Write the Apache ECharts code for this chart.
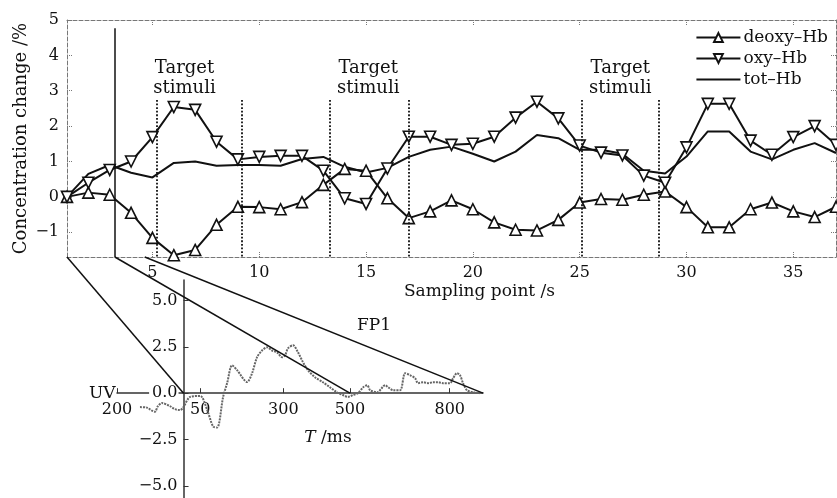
<!DOCTYPE html>
<html>
<head>
<meta charset="utf-8">
<script src="https://cdn.jsdelivr.net/npm/echarts@6/dist/echarts.min.js"></script>
<style>html,body{margin:0;padding:0;background:#fff}#c{width:837px;height:498px}</style>
</head>
<body>
<div id="c"></div>
<script>
// ---- main chart data ----
const samplePoints = [1,2,3,4,5,6,7,8,9,10,11,12,13,14,15,16,17,18,19,20,21,22,23,24,25,26,27,28,29,30,31,32,33,34,35,36,37];
const deoxyHb = [0,0.12,0.06,-0.45,-1.16,-1.65,-1.5,-0.79,-0.28,-0.29,-0.35,-0.15,0.34,0.79,0.74,-0.04,-0.6,-0.41,-0.1,-0.35,-0.72,-0.93,-0.95,-0.65,-0.16,-0.06,-0.08,0.06,0.15,-0.29,-0.86,-0.86,-0.35,-0.16,-0.41,-0.57,-0.28];
const oxyHb = [0,0.4,0.76,1.0,1.69,2.54,2.46,1.56,1.06,1.13,1.16,1.16,0.74,-0.04,-0.2,0.8,1.7,1.7,1.47,1.5,1.7,2.24,2.69,2.22,1.45,1.25,1.17,0.6,0.4,1.4,2.63,2.63,1.59,1.19,1.69,2.0,1.47];
const totHb = [0,0.65,0.9,0.68,0.55,0.96,1.0,0.88,0.9,0.9,0.88,1.07,1.13,0.85,0.69,0.82,1.13,1.33,1.42,1.22,1.0,1.28,1.75,1.66,1.33,1.33,1.22,0.74,0.66,1.14,1.85,1.85,1.28,1.06,1.33,1.52,1.24];
const seriesNames = ['deoxy\u2013Hb','oxy\u2013Hb','tot\u2013Hb'];
const xTickValues = [5,10,15,20,25,30,35];
const xTickLabels = ['5','10','15','20','25','30','35'];
const yTickValues = [-1,0,1,2,3,4,5];
const yTickLabels = ['\u22121','0','1','2','3','4','5'];
// target stimuli windows (start, end) in sampling points
const stimStart = [5.2, 13.3, 25.1];
const stimEnd = [9.2, 17.0, 28.7];
const stimLabelX = [6.5, 15.1, 26.9];
const stimTop = 2.74;
const markerX = 3.24, markerTop = 4.77;

// ---- inset (EEG FP1) data ----
const eegTime = [-131,-110,-95,-86,-77,-65,-41,-26,-11,-2,20,50,71,89,101,119,131,146,161,191,206,221,236,251,266,281,296,305,314,329,344,359,374,395,419,440,461,479,494,509,524,540,552,561,582,606,615,630,651,666,681,696,705,720,735,750,765,780,801,810,822,831,840,852,870,891];
const eegValue = [-0.75,-0.78,-0.94,-1.0,-0.7,-0.53,-0.7,-0.86,-0.91,-0.8,-0.2,-0.15,-0.9,-1.8,-1.85,-0.2,0.54,1.5,1.24,0.6,1.08,1.94,2.3,2.47,2.3,2.2,1.94,2.04,2.42,2.58,2.2,1.67,1.24,0.86,0.59,0.32,0.05,-0.1,-0.2,-0.1,0,0.32,0.43,0.16,0.05,0.43,0.32,0.16,0.16,1.08,0.97,0.8,0.54,0.59,0.54,0.59,0.59,0.54,0.54,0.8,1.08,0.97,0.54,0.16,0.05,0];
const insetXTickValues = [-200,50,300,500,800];
const insetXTickLabels = ['200','50','300','500','800'];
const insetYTickValues = [5,2.5,0,-2.5,-5];
const insetYTickLabels = ['5.0','2.5','0.0','\u22122.5','\u22125.0'];
// zoom connector lines: main x (at axis bottom) -> inset time (on zero line)
const connFromX = [1, markerX, 4.64];
const connToT = [0, 500, 900];

const FONT = 'DejaVu Serif';
const INK = '#111';
const BORDER = '#777';
const mainYMin = -1.7, mainYMax = 5;
const insetXMin = -200, insetXMax = 900, insetYMin = -5.65, insetYMax = 6.1;
// inset grid box
const IN_L = 117, IN_R = 354, IN_T = 280, IN_B = 0, W = 837, H = 498;
const inW = W - IN_L - IN_R, inH = H - IN_T - IN_B;
// axes cross at the origin: shift them from the grid edges to the zero positions
const xAxisShift = -(inH * (0 - insetYMin) / (insetYMax - insetYMin));
const yAxisShift = -(inW * (0 - insetXMin) / (insetXMax - insetXMin));

function lab(values, labels){ return v => { const i = values.findIndex(t => Math.abs(t - v) < 1e-6); return i >= 0 ? labels[i] : ''; }; }

const chart = echarts.init(document.getElementById('c'), null, {renderer:'canvas'});

const symStyle = {color:'#fff', borderColor:INK, borderWidth:1.6};
const lineStyle = {color:INK, width:2};

const stimLines = [];
stimStart.forEach((s,i)=>{
  stimLines.push([{coord:[s, stimTop]},{coord:[s, mainYMin]}]);
  stimLines.push([{coord:[stimEnd[i], stimTop]},{coord:[stimEnd[i], mainYMin]}]);
});

const option = {
  animation:false,
  backgroundColor:'#fff',
  textStyle:{fontFamily:FONT},
  title:{text:'FP1', left:352, top:312, textStyle:{fontFamily:FONT, fontSize:17, fontWeight:'normal', color:INK}},
  legend:{
    orient:'vertical', right:4, top:24, itemWidth:44, itemHeight:11, itemGap:4,
    data:[
      {name:seriesNames[0]},
      {name:seriesNames[1]},
      {name:seriesNames[2], itemStyle:{color:'rgba(0,0,0,0)', borderColor:'rgba(0,0,0,0)', borderWidth:0}}
    ],
    textStyle:{fontFamily:FONT, fontSize:17, color:INK, padding:[0,0,0,-2]}
  },
  grid:[
    {left:67, right:1, top:20, bottom:241, outerBoundsMode:'none', containLabel:false},
    {left:IN_L, right:IN_R, top:IN_T, bottom:IN_B, outerBoundsMode:'none', containLabel:false}
  ],
  xAxis:[
    {type:'value', gridIndex:0, min:1, max:37, position:'bottom',
     name:'Sampling point /s', nameLocation:'middle', nameGap:26,
     nameTextStyle:{fontFamily:FONT, fontSize:17, color:INK, padding:[0,0,0,56]},
     axisLine:{onZero:false, lineStyle:{color:BORDER, type:'dashed', width:1}},
     axisTick:{inside:true, length:5, customValues:xTickValues, lineStyle:{color:BORDER, type:'dotted'}},
     axisLabel:{customValues:xTickValues, formatter:lab(xTickValues,xTickLabels), margin:8, fontFamily:FONT, fontSize:16, color:INK},
     splitLine:{show:false}},
    {type:'value', gridIndex:0, min:1, max:37, position:'top',
     axisLine:{onZero:false, lineStyle:{color:BORDER, type:'dashed', width:1}},
     axisTick:{inside:true, length:5, customValues:xTickValues, lineStyle:{color:BORDER, type:'dotted'}},
     axisLabel:{show:false}, splitLine:{show:false}},
    {type:'value', gridIndex:1, min:insetXMin, max:insetXMax, position:'bottom', offset:xAxisShift,
     name:'{i|T} /ms', nameLocation:'middle', nameGap:36, nameMoveOverlap:false,
     nameTextStyle:{fontFamily:FONT, fontSize:17, color:INK, padding:[0,0,0,56], rich:{i:{fontFamily:FONT, fontStyle:'italic', fontSize:17, color:INK}}},
     axisLine:{onZero:false, lineStyle:{color:'#333', width:1.5}},
     axisTick:{inside:true, length:5, customValues:insetXTickValues, lineStyle:{color:'#333'}},
     axisLabel:{customValues:insetXTickValues, formatter:lab(insetXTickValues,insetXTickLabels), margin:9, fontFamily:FONT, fontSize:16, color:INK},
     splitLine:{show:false}}
  ],
  yAxis:[
    {type:'value', gridIndex:0, min:mainYMin, max:mainYMax, position:'left',
     name:'Concentration change /%', nameLocation:'middle', nameGap:37, nameMoveOverlap:false,
     nameTextStyle:{fontFamily:FONT, fontSize:18, color:INK},
     axisLine:{show:true, onZero:false, lineStyle:{color:BORDER, type:'dashed', width:1}},
     axisTick:{show:true, inside:true, length:5, customValues:yTickValues, lineStyle:{color:BORDER, type:'dotted'}},
     axisLabel:{customValues:yTickValues, formatter:lab(yTickValues,yTickLabels), margin:8, fontFamily:FONT, fontSize:16, color:INK},
     splitLine:{show:false}},
    {type:'value', gridIndex:0, min:mainYMin, max:mainYMax, position:'right',
     axisLine:{show:true, onZero:false, lineStyle:{color:BORDER, type:'dashed', width:1}},
     axisTick:{show:true, inside:true, length:5, customValues:yTickValues, lineStyle:{color:BORDER, type:'dotted'}},
     axisLabel:{show:false}, splitLine:{show:false}},
    {type:'value', gridIndex:1, min:insetYMin, max:insetYMax, position:'left', offset:yAxisShift,
     name:'UV', nameLocation:'middle', nameGap:68, nameRotate:0, nameMoveOverlap:false,
     nameTextStyle:{fontFamily:FONT, fontSize:17, color:INK, verticalAlign:'top', lineHeight:10},
     axisLine:{show:true, onZero:false, lineStyle:{color:'#333', width:1.5}},
     axisTick:{show:true, inside:true, length:5, customValues:insetYTickValues, lineStyle:{color:'#333'}},
     axisLabel:{customValues:insetYTickValues, formatter:lab(insetYTickValues,insetYTickLabels), margin:5, fontFamily:FONT, fontSize:16, color:INK, backgroundColor:'#fff', padding:[0,1,0,3]},
     splitLine:{show:false}}
  ],
  series:[
    {name:seriesNames[0], type:'line', xAxisIndex:0, yAxisIndex:0,
     data:samplePoints.map((x,i)=>[x,deoxyHb[i]]),
     symbol:'triangle', symbolSize:11, itemStyle:symStyle, lineStyle:lineStyle, z:4,
     markLine:{silent:true, symbol:['none','none'], label:{show:false},
       data:stimLines, lineStyle:{color:INK, type:'dotted', width:1.8}}},
    {name:seriesNames[1], type:'line', xAxisIndex:0, yAxisIndex:0,
     data:samplePoints.map((x,i)=>[x,oxyHb[i]]),
     symbol:'triangle', symbolRotate:180, symbolSize:11, itemStyle:symStyle, lineStyle:lineStyle, z:4,
     markLine:{silent:true, symbol:['none','none'], label:{show:false},
       data:[[{coord:[markerX, markerTop]},{coord:[markerX, mainYMin]}]], lineStyle:{color:INK, type:'solid', width:1.5}},
     markPoint:{silent:true, symbol:'circle', symbolSize:1, itemStyle:{color:'rgba(0,0,0,0)'},
       data:stimLabelX.map(x=>({coord:[x,3.36], value:0})),
       label:{show:true, position:'inside', formatter:'Target\nstimuli', fontFamily:FONT, fontSize:18, lineHeight:20, color:INK}}},
    {name:seriesNames[2], type:'line', xAxisIndex:0, yAxisIndex:0,
     data:samplePoints.map((x,i)=>[x,totHb[i]]),
     symbol:'none', lineStyle:lineStyle, itemStyle:{color:INK}, z:3},
    {name:'FP1', type:'line', xAxisIndex:2, yAxisIndex:2,
     data:eegTime.map((t,i)=>[t,eegValue[i]]),
     symbol:'none', smooth:0.3, lineStyle:{color:'#666', width:2, type:[2,1]}, z:2}
  ]
};
chart.setOption(option);

// connector lines between main chart and inset, positioned through the axes
const g = [];
connFromX.forEach((x,i)=>{
  const a = chart.convertToPixel({seriesIndex:0}, [x, mainYMin]);
  const b = chart.convertToPixel({seriesIndex:3}, [connToT[i], 0]);
  g.push({type:'line', shape:{x1:a[0], y1:a[1], x2:b[0], y2:b[1]}, style:{stroke:INK, lineWidth:1.5}, z:10, silent:true});
});
chart.setOption({graphic:g});
</script>
</body>
</html>
